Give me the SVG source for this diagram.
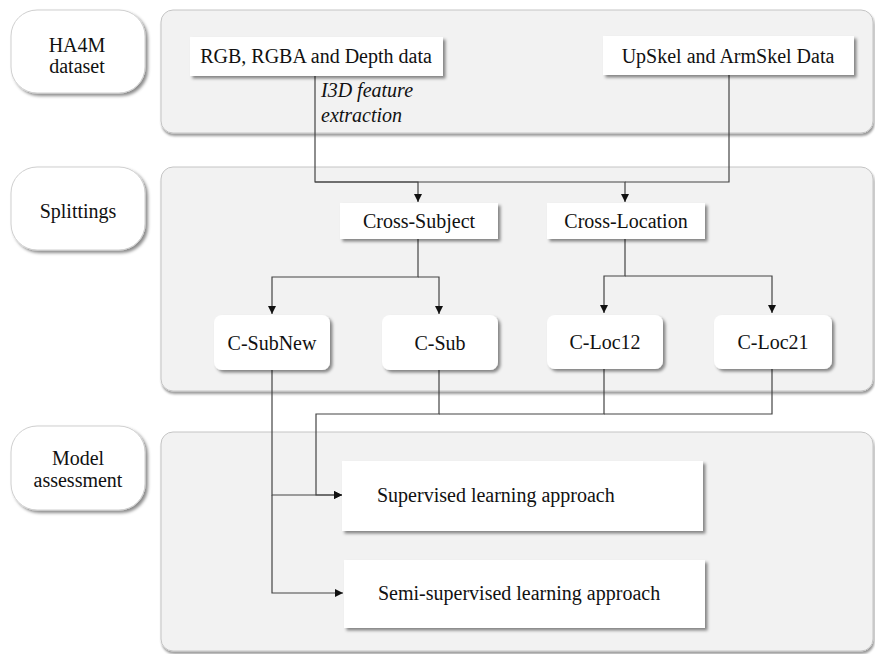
<svg xmlns="http://www.w3.org/2000/svg" width="875" height="654" viewBox="0 0 875 654" font-family="'Liberation Serif', 'DejaVu Serif', serif" font-size="20">
<defs>
<filter id="sh" x="-10%" y="-20%" width="130%" height="150%">
<feDropShadow dx="2.5" dy="2.5" stdDeviation="1.5" flood-color="#000" flood-opacity="0.45"/>
</filter>
<filter id="psh" x="-5%" y="-5%" width="110%" height="115%">
<feDropShadow dx="1" dy="2.5" stdDeviation="1.2" flood-color="#000" flood-opacity="0.4"/>
</filter>
<marker id="arr" viewBox="0 0 10 10" refX="10" refY="5" markerWidth="8" markerHeight="8" markerUnits="userSpaceOnUse" orient="auto">
<path d="M0,0 L10,5 L0,10 z" fill="#111"/>
</marker>
</defs>
<style>
text{fill:#111;}
.mid{text-anchor:middle;}
.panel{fill:#f2f2f2;stroke:#c4c4c4;stroke-width:1;filter:url(#psh);}
.lab{fill:#fff;stroke:#cfcfcf;stroke-width:1;filter:url(#sh);}
.box{fill:#fff;filter:url(#sh);}
.wire{fill:none;stroke:#444;stroke-width:1.2;}
</style>
<rect width="875" height="654" fill="#fff"/>

<g id="panels">
<rect class="panel" x="161" y="10" width="712" height="123" rx="12"/>
<rect class="panel" x="161" y="167" width="712" height="224" rx="12"/>
<rect class="panel" x="161" y="432" width="712" height="219" rx="12"/>
</g>

<g id="lbl-ha4m">
<rect class="lab" x="11" y="10" width="134" height="83" rx="26"/>
<text class="mid" x="77" y="52">HA4M</text>
<text class="mid" x="77" y="73">dataset</text>
</g>
<g id="lbl-split">
<rect class="lab" x="11" y="167" width="134" height="83" rx="26"/>
<text class="mid" x="78" y="218">Splittings</text>
</g>
<g id="lbl-model">
<rect class="lab" x="11" y="426" width="134" height="84" rx="26"/>
<text class="mid" x="78" y="465">Model</text>
<text class="mid" x="78" y="487">assessment</text>
</g>

<g id="connectors">
<path class="wire" d="M315,76 V182 H418 V202" marker-end="url(#arr)"/>
<path class="wire" d="M315,182 H625 V202" marker-end="url(#arr)"/>
<path class="wire" d="M729,75 V182 H625"/>
<path class="wire" d="M418,239 V277 H272 V314" marker-end="url(#arr)"/>
<path class="wire" d="M418,277 H439 V314" marker-end="url(#arr)"/>
<path class="wire" d="M625,239 V276 H604 V313" marker-end="url(#arr)"/>
<path class="wire" d="M625,276 H772 V313" marker-end="url(#arr)"/>
<path class="wire" d="M272,370 V495 H342" marker-end="url(#arr)"/>
<path class="wire" d="M272,495 V593 H343" marker-end="url(#arr)"/>
<path class="wire" d="M439,370 V414 H316 V495 H342" marker-end="url(#arr)"/>
<path class="wire" d="M604,369 V414 H439"/>
<path class="wire" d="M772,369 V414 H604"/>
<text x="321" y="97" font-style="italic">I3D feature</text>
<text x="321" y="122" font-style="italic">extraction</text>
</g>

<g id="rgb">
<rect class="box" x="190" y="37" width="253" height="39"/>
<text class="mid" x="316" y="63">RGB, RGBA and Depth data</text>
</g>
<g id="upskel">
<rect class="box" x="603" y="36" width="251" height="39"/>
<text class="mid" x="728" y="63">UpSkel and ArmSkel Data</text>
</g>
<g id="cross-subject">
<rect class="box" x="340" y="203" width="158" height="36"/>
<text class="mid" x="419" y="228">Cross-Subject</text>
</g>
<g id="cross-location">
<rect class="box" x="547" y="203" width="158" height="36"/>
<text class="mid" x="626" y="228">Cross-Location</text>
</g>
<g id="c-subnew">
<rect class="box" x="214" y="315" width="116" height="55" rx="8"/>
<text class="mid" x="272" y="350">C-SubNew</text>
</g>
<g id="c-sub">
<rect class="box" x="382" y="315" width="116" height="55" rx="8"/>
<text class="mid" x="440" y="350">C-Sub</text>
</g>
<g id="c-loc12">
<rect class="box" x="547" y="315" width="116" height="54" rx="8"/>
<text class="mid" x="605" y="349">C-Loc12</text>
</g>
<g id="c-loc21">
<rect class="box" x="714" y="315" width="118" height="54" rx="8"/>
<text class="mid" x="773" y="349">C-Loc21</text>
</g>
<g id="supervised">
<rect class="box" x="342" y="461" width="361" height="70"/>
<text x="377" y="502">Supervised learning approach</text>
</g>
<g id="semi">
<rect class="box" x="344" y="560" width="361" height="68"/>
<text x="378" y="600">Semi-supervised learning approach</text>
</g>
</svg>
